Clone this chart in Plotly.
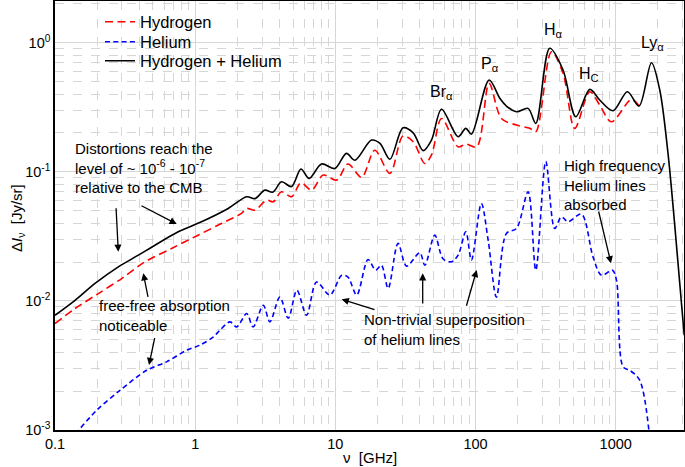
import plotly.graph_objects as go

# ---------------- data ----------------
black_freq = [0.1, 0.139, 0.193, 0.283, 0.393, 0.516, 0.757, 1.11, 1.72, 2.33, 2.67, 3.14, 3.58,
              4.13, 4.87, 5.68, 6.50, 7.97, 9.91, 12.0, 13.8, 18.1, 20.8, 24.5, 30.4, 35.9, 42.3,
              48.5, 57.2, 75.1, 85.2, 93.5, 125, 149, 166, 196, 237, 269, 338, 421, 519, 653, 769,
              957, 1211, 1466, 1798, 2061, 2360, 2636, 3080]
black_val = [0.00774, 0.0101, 0.01365, 0.01835, 0.0226, 0.0270, 0.0343, 0.0410, 0.0520, 0.0640,
             0.0620, 0.0721, 0.0696, 0.0836, 0.0768, 0.105, 0.0889, 0.115, 0.106, 0.139, 0.123,
             0.176, 0.166, 0.125, 0.219, 0.200, 0.146, 0.176, 0.305, 0.187, 0.217, 0.196, 0.514,
             0.371, 0.323, 0.292, 0.310, 0.237, 0.905, 0.614, 0.267, 0.435, 0.360, 0.297, 0.417,
             0.323, 0.700, 0.430, 0.139, 0.0386, 0.00542]

red_freq = [0.1, 0.139, 0.204, 0.299, 0.439, 0.679, 1.05, 1.54, 2.14, 2.33, 2.67, 3.23, 3.60,
            4.13, 4.87, 5.68, 6.77, 8.19, 10.2, 12.3, 15.4, 19.1, 24.5, 30.4, 35.9, 43.5, 48.5,
            57.2, 75.1, 85.2, 102, 125, 153, 196, 244, 269, 348, 421, 510, 653, 769, 932, 1294, 1466]
red_val = [0.00668, 0.00873, 0.0114, 0.0149, 0.0201, 0.0255, 0.0323, 0.0398, 0.0476, 0.0520,
           0.0505, 0.0603, 0.0585, 0.070, 0.0640, 0.0822, 0.0721, 0.0943, 0.0862, 0.115, 0.0905,
           0.147, 0.0972, 0.189, 0.171, 0.116, 0.135, 0.259, 0.156, 0.164, 0.156, 0.484, 0.259,
           0.230, 0.217, 0.204, 0.851, 0.579, 0.217, 0.417, 0.329, 0.244, 0.364, 0.323]

blue_freq = [0.14, 0.198, 0.291, 0.451, 0.625, 0.869, 1.08, 1.35, 1.50, 1.77, 1.98, 2.33, 2.59,
             3.06, 3.41, 4.02, 4.61, 5.32, 6.23, 7.34, 9.14, 11.1, 12.3, 14.2, 17.1, 19.4, 21.3,
             23.8, 28.0, 32.2, 40.0, 43.5, 51.2, 58.7, 67.4, 75.1, 85.2, 93.5, 110, 123, 141, 166,
             196, 237, 269, 317, 367, 410, 457, 569, 689, 791, 947, 1012, 1128, 1259, 1483, 1750]
blue_val = [0.00093, 0.00142, 0.00203, 0.00290, 0.00337, 0.00415, 0.00454, 0.00526, 0.00593,
            0.00688, 0.00629, 0.00798, 0.00629, 0.00926, 0.00688, 0.0107, 0.00734, 0.0121,
            0.00774, 0.0140, 0.0111, 0.0158, 0.0153, 0.0111, 0.0209, 0.0173, 0.0189, 0.0125,
            0.0279, 0.0186, 0.0236, 0.0189, 0.0323, 0.0211, 0.0201, 0.0226, 0.0343, 0.0207,
            0.0569, 0.0296, 0.0107, 0.0333, 0.0364, 0.070, 0.0173, 0.120, 0.0364, 0.0448,
            0.0410, 0.0470, 0.0219, 0.0158, 0.0173, 0.0145, 0.00308, 0.00290, 0.00243, 0.00085]

x_tickvals = [0.1, 1, 10, 100, 1000]
x_ticktext = ["0.1", "1", "10", "100", "1000"]
y_tickvals = [1e-3, 1e-2, 1e-1, 1]
y_ticktext = ["10<sup>-3</sup>", "10<sup>-2</sup>", "10<sup>-1</sup>", "10<sup>0</sup>"]

FONT = "Liberation Sans, Arial, sans-serif"
W, H = 685, 467
L, R, T, B = 55, 1, 1, 37


def P(px, py):
    """pixel position in the picture -> paper coordinates"""
    return (px - L) / (W - L - R), (H - B - py) / (H - T - B)


fig = go.Figure()
fig.add_trace(go.Scatter(x=red_freq, y=red_val, name="Hydrogen", mode="lines", legend="legend",
                         showlegend=True,
                         line=dict(color="#ff0000", width=1.6, dash="8px,4.5px",
                                   shape="spline", smoothing=0.9)))
fig.add_trace(go.Scatter(x=blue_freq, y=blue_val, name="Helium", mode="lines", legend="legend2",
                         showlegend=True,
                         line=dict(color="#0000ff", width=1.6, dash="5px,3.3px",
                                   shape="spline", smoothing=0.9)))
fig.add_trace(go.Scatter(x=black_freq, y=black_val, name="Hydrogen + Helium", mode="lines",
                         legend="legend3", showlegend=True,
                         line=dict(color="black", width=1.6, shape="spline", smoothing=0.9)))

x_minor = [m * 10.0 ** e for e in range(-1, 4) for m in range(2, 10)]
y_minor = [m * 10.0 ** e for e in range(-3, 1) for m in range(2, 10)]

axis_common = dict(type="log", showline=True, linecolor="black", linewidth=1.5, mirror=True,
                   showgrid=True, gridcolor="#d6d6d6", gridwidth=1, ticks="", zeroline=False,
                   automargin=False,
                   tickfont=dict(family=FONT, size=14.5, color="black"))

fig.update_xaxes(**axis_common, range=[-1, 3.487], tickvals=x_tickvals, ticktext=x_ticktext,
                 minor=dict(tickvals=x_minor, showgrid=True, gridcolor="#d6d6d6",
                            griddash="dash", ticks=""))
fig.update_yaxes(**axis_common, range=[-3, 0.323], tickvals=y_tickvals, ticktext=y_ticktext,
                 minor=dict(tickvals=y_minor, showgrid=True, gridcolor="#d6d6d6",
                            griddash="dash", ticks=""))

ann = []
# axis titles
x, y = P(369.5, 457)
ann.append(dict(text="ν  [GHz]", x=x, y=y, xref="paper", yref="paper", showarrow=False,
                xanchor="center", yanchor="middle", font=dict(family=FONT, size=15, color="black")))
x, y = P(17, 218)
ann.append(dict(text="Δ<i>I</i><sub>ν</sub>  [Jy/sr]", x=x, y=y, xref="paper", yref="paper",
                showarrow=False, textangle=-90, xanchor="center", yanchor="middle",
                font=dict(family=FONT, size=15, color="black")))

# line labels
for txt, px, py in [("Br<sub>α</sub>", 441, 92), ("P<sub>α</sub>", 490, 64),
                    ("H<sub>α</sub>", 553, 30), ("H<sub>C</sub>", 589, 74),
                    ("Ly<sub>α</sub>", 652, 43)]:
    x, y = P(px, py)
    ann.append(dict(text=txt, x=x, y=y, xref="paper", yref="paper", showarrow=False,
                    xanchor="center", yanchor="middle",
                    font=dict(family=FONT, size=16, color="black")))

# text blocks
for txt, px, py in [("Distortions reach the<br>level of ~ 10<sup>-6</sup> - 10<sup>-7</sup>"
                     "<br>relative to the CMB", 73, 168),
                    ("free-free absorption<br>noticeable", 97, 315),
                    ("Non-trivial superposition<br>of helium lines", 362, 329),
                    ("High frequency<br>Helium lines<br>absorbed", 562, 185)]:
    x, y = P(px, py)
    ann.append(dict(text=txt, x=x, y=y, xref="paper", yref="paper", showarrow=False,
                    xanchor="left", yanchor="middle", align="left",
                    font=dict(family=FONT, size=15, color="black")))

# arrows: head pixel position, tail pixel position
for hx, hy, tx, ty in [(118.3, 251.7, 116, 206.7), (176.7, 224, 140, 205),
                       (143.3, 273.3, 148.3, 298.3), (149, 365, 155, 336.7),
                       (341.7, 299.3, 376, 310), (422.7, 273.3, 422.7, 305),
                       (476.7, 270, 466, 307.3), (611, 263.3, 598.3, 210)]:
    x, y = P(hx, hy)
    ann.append(dict(text="", x=x, y=y, xref="paper", yref="paper", showarrow=True,
                    ax=tx - hx, ay=ty - hy, arrowhead=2, arrowsize=1.1, arrowwidth=1.3,
                    arrowcolor="black", standoff=0, startstandoff=0))


def leg(py):
    lx, ly = P(100, py)
    return dict(x=lx, y=ly, xanchor="left", yanchor="middle", bgcolor="rgba(0,0,0,0)",
                font=dict(family=FONT, size=16.5, color="black"), visible=True)


fig.update_layout(
    width=W, height=H, autosize=False, showlegend=True,
    margin=dict(l=L, r=R, t=T, b=B, autoexpand=False),
    paper_bgcolor="white", plot_bgcolor="white",
    font=dict(family=FONT, color="black"),
    annotations=ann,
    legend=leg(22), legend2=leg(42), legend3=leg(61),
)

post = ("document.body.style.margin='0';document.body.style.padding='0';"
        "document.documentElement.style.overflow='hidden';"
        "var gd=document.getElementById('{plot_id}');"
        "Plotly.relayout(gd,{width:685,height:467});")
fig.write_html("out.html", config={"responsive": False, "displayModeBar": False},
               post_script=post)
